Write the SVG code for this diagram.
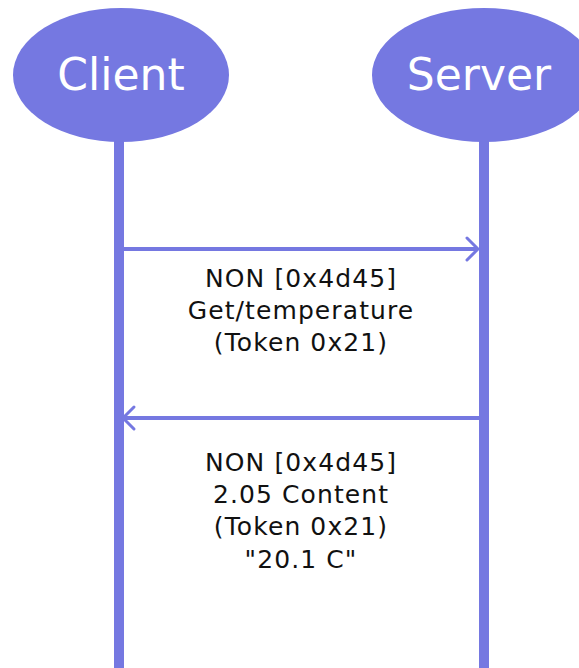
<svg xmlns="http://www.w3.org/2000/svg" width="579" height="668" viewBox="0 0 579 668">
  <defs>
    <style>
      .actor { fill: #7578E1; }
      .actorLabel { font-family: "DejaVu Sans", Verdana, sans-serif; font-size: 44px; fill: #ffffff; text-anchor: middle; }
      .life { stroke: #7578E1; stroke-width: 10; fill: none; }
      .msg { stroke: #7578E1; stroke-width: 4; fill: none; }
      .head { stroke: #7578E1; stroke-width: 3; fill: none; stroke-linecap: round; stroke-linejoin: round; }
      .lbl { font-family: "DejaVu Sans", Verdana, sans-serif; font-size: 25px; letter-spacing: 1.1px; fill: #111111; text-anchor: middle; }
    </style>
  </defs>
  <rect width="579" height="668" fill="#ffffff"/>
  <g id="connectors">
    <line class="life" x1="119" y1="138" x2="119" y2="668"/>
    <line class="life" x1="484" y1="138" x2="484" y2="668"/>
    <line class="msg" x1="124" y1="249" x2="478" y2="249"/>
    <polyline class="head" points="467,238 478,249 467,260"/>
    <line class="msg" x1="125" y1="418" x2="479" y2="418"/>
    <polyline class="head" points="134,407 123,418 134,429"/>
  </g>
  <g id="client">
    <ellipse class="actor" cx="121" cy="75" rx="108" ry="67"/>
    <text class="actorLabel" x="121" y="90">Client</text>
  </g>
  <g id="server">
    <ellipse class="actor" cx="484" cy="75" rx="112" ry="67"/>
    <text class="actorLabel" x="479" y="90">Server</text>
  </g>
  <g id="request-label">
    <text class="lbl" x="301" y="287">NON [0x4d45]</text>
    <text class="lbl" x="301" y="319">Get/temperature</text>
    <text class="lbl" x="301" y="351">(Token 0x21)</text>
  </g>
  <g id="response-label">
    <text class="lbl" x="301" y="471">NON [0x4d45]</text>
    <text class="lbl" x="301" y="503">2.05 Content</text>
    <text class="lbl" x="301" y="535">(Token 0x21)</text>
    <text class="lbl" x="301" y="568">"20.1 C"</text>
  </g>
</svg>
